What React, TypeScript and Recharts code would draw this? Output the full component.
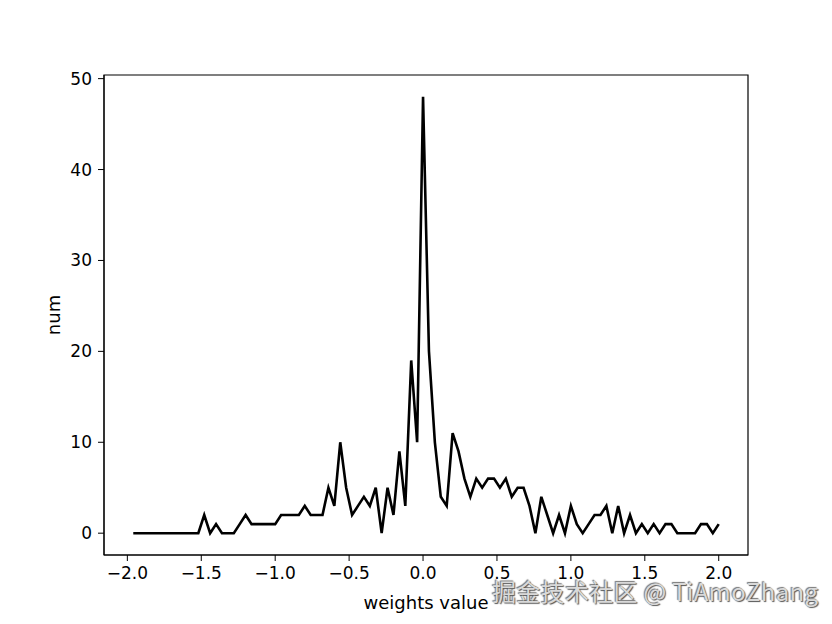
import React from "react";
import {
  LineChart,
  Line,
  XAxis,
  YAxis,
  ReferenceArea,
} from "recharts";

// bin right edges of the weight histogram
const binEdges = [
  -1.96, -1.92, -1.88, -1.84, -1.8, -1.76, -1.72, -1.68, -1.64, -1.6,
  -1.56, -1.52, -1.48, -1.44, -1.4, -1.36, -1.32, -1.28, -1.24, -1.2,
  -1.16, -1.12, -1.08, -1.04, -1.0, -0.96, -0.92, -0.88, -0.84, -0.8,
  -0.76, -0.72, -0.68, -0.64, -0.6, -0.56, -0.52, -0.48, -0.44, -0.4,
  -0.36, -0.32, -0.28, -0.24, -0.2, -0.16, -0.12, -0.08, -0.04, 0.0,
  0.04, 0.08, 0.12, 0.16, 0.2, 0.24, 0.28, 0.32, 0.36, 0.4,
  0.44, 0.48, 0.52, 0.56, 0.6, 0.64, 0.68, 0.72, 0.76, 0.8,
  0.84, 0.88, 0.92, 0.96, 1.0, 1.04, 1.08, 1.12, 1.16, 1.2,
  1.24, 1.28, 1.32, 1.36, 1.4, 1.44, 1.48, 1.52, 1.56, 1.6,
  1.64, 1.68, 1.72, 1.76, 1.8, 1.84, 1.88, 1.92, 1.96, 2.0,
];

const counts = [
  0, 0, 0, 0, 0, 0, 0, 0, 0, 0,
  0, 0, 2, 0, 1, 0, 0, 0, 1, 2,
  1, 1, 1, 1, 1, 2, 2, 2, 2, 3,
  2, 2, 2, 5, 3, 10, 5, 2, 3, 4,
  3, 5, 0, 5, 2, 9, 3, 19, 10, 48,
  20, 10, 4, 3, 11, 9, 6, 4, 6, 5,
  6, 6, 5, 6, 4, 5, 5, 3, 0, 4,
  2, 0, 2, 0, 3, 1, 0, 1, 2, 2,
  3, 0, 3, 0, 2, 0, 1, 0, 1, 0,
  1, 1, 0, 0, 0, 0, 1, 1, 0, 1,
];

const xTicks = [-2, -1.5, -1, -0.5, 0, 0.5, 1, 1.5, 2];
const yTicks = [0, 10, 20, 30, 40, 50];

const X_DOMAIN: [number, number] = [-2.158, 2.198];
const Y_DOMAIN: [number, number] = [-2.4, 50.4];

const FONT = "'DejaVu Sans', sans-serif";

function fmtX(v: number) {
  return v.toFixed(1).replace("-", "\u2212");
}

export default function App() {
  const rows = binEdges.map((x, i) => ({ x, num: counts[i] }));

  return (
    <div
      style={{
        position: "absolute",
        left: 0,
        top: 0,
        width: 832,
        height: 624,
        background: "#fff",
        fontFamily: FONT,
      }}
    >
      <LineChart
        width={832}
        height={624}
        data={rows}
        margin={{ top: 75, right: 84, bottom: 9, left: 44 }}
      >
        <XAxis
          dataKey="x"
          type="number"
          domain={X_DOMAIN}
          allowDataOverflow
          ticks={xTicks}
          tickFormatter={fmtX}
          height={60}
          tickSize={6}
          tickMargin={6}
          stroke="#000"
          tick={{ fill: "#000", fontSize: 17, fontFamily: FONT }}
          label={{
            value: "weights value",
            position: "insideBottom",
            offset: 6,
            style: { fill: "#000", fontSize: 18, fontFamily: FONT },
          }}
        />
        <YAxis
          type="number"
          domain={Y_DOMAIN}
          allowDataOverflow
          ticks={yTicks}
          width={60}
          tickSize={6}
          tickMargin={6}
          stroke="#000"
          tick={{ fill: "#000", fontSize: 17, fontFamily: FONT }}
          label={{
            value: "num",
            angle: -90,
            position: "insideLeft",
            offset: 10,
            style: { fill: "#000", fontSize: 18, fontFamily: FONT, textAnchor: "middle" },
          }}
        />
        <ReferenceArea
          x1={X_DOMAIN[0]}
          x2={X_DOMAIN[1]}
          y1={Y_DOMAIN[0]}
          y2={Y_DOMAIN[1]}
          fill="none"
          stroke="#000"
          strokeWidth={1.2}
          fillOpacity={0}
        />
        <Line
          type="linear"
          dataKey="num"
          stroke="#000"
          strokeWidth={2.6}
          dot={false}
          isAnimationActive={false}
        />
      </LineChart>
      <div
        style={{
          position: "absolute",
          left: 492,
          top: 573,
          fontSize: 24,
          fontFamily: "'Noto Sans CJK SC', sans-serif",
          color: "#d9d9d9",
          textShadow: "1px 1px 1px #555, -1px -1px 1px #777",
          whiteSpace: "nowrap",
          letterSpacing: 0.3,
        }}
      >
        掘金技术社区 @ TiAmoZhang
      </div>
    </div>
  );
}
